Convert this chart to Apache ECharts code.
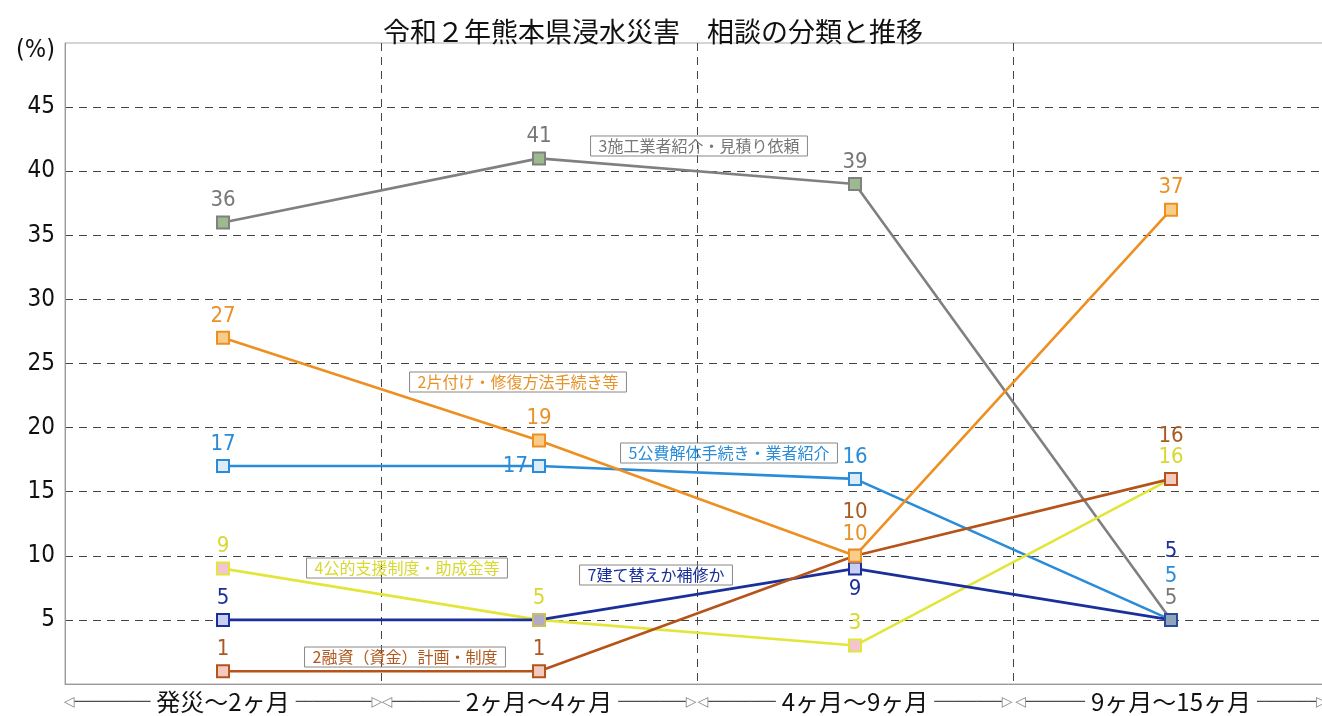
<!DOCTYPE html>
<html>
<head>
<meta charset="utf-8">
<script src="https://cdn.jsdelivr.net/npm/echarts@6/dist/echarts.min.js"></script>
<style>
  html, body { margin: 0; padding: 0; background: #fff; }
  #chart { width: 1322px; height: 716px; }
</style>
</head>
<body>
<div id="chart"></div>
<script>
// 期間（横軸）
const categories = ['発災～2ヶ月', '2ヶ月～4ヶ月', '4ヶ月～9ヶ月', '9ヶ月～15ヶ月']
// 相談の分類ごとの割合 (%)
const sekou = [36, 41, 39, 5]      // 3施工業者紹介・見積り依頼
const katazuke = [27, 19, 10, 37]  // 2片付け・修復方法手続き等
const kouhi = [17, 17, 16, 5]      // 5公費解体手続き・業者紹介
const kouteki = [9, 5, 3, 16]      // 4公的支援制度・助成金等
const tatekae = [5, 5, 9, 5]       // 7建て替えか補修か
const yuushi = [1, 1, 10, 16]      // 2融資（資金）計画・制度
const yMin = 0
const yMax = 50
const yStep = 5

const NUM_FONT = '"Liberation Sans Narrow", "DejaVu Sans Condensed", "Noto Sans CJK JP", sans-serif'
const JP_FONT = '"Noto Sans CJK JP", sans-serif'

const myChart = echarts.init(document.getElementById('chart'))

// 系列ごとのラベル位置・マーカーの微調整（index -> 設定）
function withTweaks(values, tweaks) {
  return values.map((v, i) => {
    if (tweaks && tweaks[i]) {
      return Object.assign({ value: v }, tweaks[i])
    }
    return v
  })
}

function makeSeries(name, values, color, fill, labelColor, tweaks) {
  return {
    name: name,
    type: 'line',
    data: withTweaks(values, tweaks),
    symbol: 'rect',
    symbolSize: 12,
    lineStyle: { color: color, width: 2.6 },
    itemStyle: { color: fill, borderColor: color, borderWidth: 2 },
    label: {
      show: true,
      position: 'top',
      distance: 4,
      color: labelColor,
      fontSize: 22,
      fontFamily: NUM_FONT
    },
    emphasis: { disabled: true }
  }
}

// 横軸ラベル（◁── 期間 ──▷）
function axisText(value) {
  let w = 0
  for (const ch of value) {
    w += /[0-9]/.test(ch) ? 13 : 24
  }
  const n = Math.max(2, Math.round((316 - w - 12 - 26) / 2 / 8.4))
  const line = '─'.repeat(n)
  return '{a|◁}{l|' + line + '}{t|' + value + '}{l|' + line + '}{a|▷}'
}

let option = {
  animation: false,
  title: {
    text: '令和２年熊本県浸水災害　相談の分類と推移',
    left: 378,
    top: 13,
    textStyle: {
      color: '#111',
      fontSize: 27,
      fontWeight: 'normal',
      fontFamily: JP_FONT
    }
  },
  grid: {
    left: 65,
    width: 1264,
    top: 43,
    bottom: 32,
    outerBoundsMode: 'none',
    show: true,
    borderColor: '#aaa',
    borderWidth: 1
  },
  xAxis: {
    type: 'category',
    data: categories,
    boundaryGap: true,
    axisLine: { lineStyle: { color: '#999' } },
    axisTick: { show: false },
    axisLabel: {
      interval: 0,
      margin: 6,
      formatter: axisText,
      rich: {
        a: { fontSize: 14, color: '#888', fontFamily: '"DejaVu Sans", sans-serif' },
        l: { fontSize: 14, color: '#444', fontFamily: '"DejaVu Sans", sans-serif' },
        t: { fontSize: 24, color: '#111', fontFamily: JP_FONT, padding: [0, 6] }
      }
    },
    splitLine: {
      show: true,
      interval: 0,
      showMinLine: false,
      showMaxLine: false,
      lineStyle: { color: '#444', type: [8, 6], width: 1 }
    }
  },
  yAxis: {
    type: 'value',
    min: yMin,
    max: yMax,
    interval: yStep,
    axisLine: { show: true, lineStyle: { color: '#999' } },
    axisTick: { show: false },
    axisLabel: {
      margin: 10,
      color: '#111',
      fontSize: 24,
      fontFamily: NUM_FONT,
      formatter: function (v) {
        if (v === yMin) return ''
        if (v === yMax) return '{p|(%)}'
        return v
      },
      rich: {
        p: { fontSize: 25, color: '#111', fontFamily: NUM_FONT, padding: [14, 0, 0, 0] }
      }
    },
    splitLine: {
      show: true,
      showMinLine: false,
      showMaxLine: false,
      lineStyle: { color: '#444', type: [8, 6], width: 1 }
    }
  },
  series: [
    makeSeries('3施工業者紹介・見積り依頼', sekou, '#808080', '#9db98f', '#777', null),
    makeSeries('5公費解体手続き・業者紹介', kouhi, '#2a8cd8', '#dcecf8', '#2a8cd8', {
      1: { label: { position: 'left', distance: 4 } },
      3: { label: { offset: [0, -22] } }
    }),
    makeSeries('4公的支援制度・助成金等', kouteki, '#e3e63a', '#f3c4d4', '#d8d830', {
      1: { itemStyle: { color: '#b3a9c9', borderColor: '#c8c060' } }
    }),
    makeSeries('7建て替えか補修か', tatekae, '#1a2f9a', '#c9cff2', '#1a2f9a', {
      1: { label: { offset: [0, -24] }, itemStyle: { opacity: 0 } },
      2: { label: { position: 'bottom', distance: 3 } },
      3: { label: { offset: [0, -47] }, itemStyle: { color: '#8fa3bb', borderColor: '#2a4a9a' } }
    }),
    makeSeries('2融資（資金）計画・制度', yuushi, '#b5541a', '#f3c9c0', '#a85a22', {
      2: { label: { offset: [0, -22] } },
      3: { label: { offset: [0, -21] } }
    }),
    makeSeries('2片付け・修復方法手続き等', katazuke, '#ee8f22', '#f8cd8a', '#e8922a', null)
  ],
  // 系列名の枠付き注記
  graphic: [
    { name: '3施工業者紹介・見積り依頼', x: 699, y: 146, color: '#777' },
    { name: '2片付け・修復方法手続き等', x: 518, y: 382, color: '#e8922a' },
    { name: '5公費解体手続き・業者紹介', x: 729, y: 453, color: '#2a8cd8' },
    { name: '4公的支援制度・助成金等', x: 407, y: 568, color: '#d8d830' },
    { name: '7建て替えか補修か', x: 656, y: 575, color: '#1a2f9a' },
    { name: '2融資（資金）計画・制度', x: 405, y: 657, color: '#b0581e' }
  ].map(a => ({
    type: 'text',
    x: a.x,
    y: a.y,
    z: 10,
    style: {
      text: a.name,
      fill: a.color,
      font: '16px ' + JP_FONT,
      align: 'center',
      verticalAlign: 'middle',
      borderColor: '#888',
      borderWidth: 1,
      padding: [2, 8]
    }
  }))
}

myChart.setOption(option)
</script>
</body>
</html>
